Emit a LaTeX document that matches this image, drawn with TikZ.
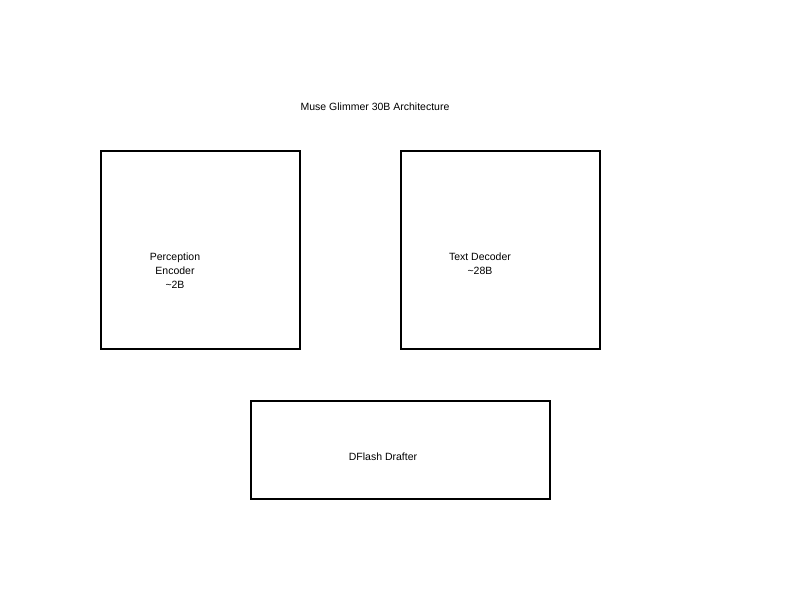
\documentclass[tikz,border=0pt]{standalone}
\usepackage{fontspec}
\setmainfont{Liberation Sans}
\usetikzlibrary{positioning}

\begin{document}
\begin{tikzpicture}[
  x=1pt, y=-1pt,
  block/.style={
    rectangle, draw, line width=1.6pt,
    inner sep=0pt
  },
  caption/.style={
    align=center, font=\fontsize{10.5}{14}\selectfont, inner sep=0pt
  }
]
\useasboundingbox (0,0) rectangle (800,600);

% Title
\node[caption] (title) at (375,107) {Muse Glimmer 30B Architecture};

% Upper row
\node[block, minimum width=199pt, minimum height=198pt] (enc) at (200.5,250) {};
\node[block, minimum width=199pt, minimum height=198pt] (dec) at (500.5,250) {};

% Lower row
\node[block, minimum width=299pt, minimum height=98pt] (draft) at (400.5,450) {};

% Labels
\node[caption] (enclab) at (175,271) {Perception\\Encoder\\\textasciitilde 2B};
\node[caption] (declab) at (480,264) {Text Decoder\\\textasciitilde 28B};
\node[caption] (draftlab) at (383,457) {DFlash Drafter};
\end{tikzpicture}
\end{document}
